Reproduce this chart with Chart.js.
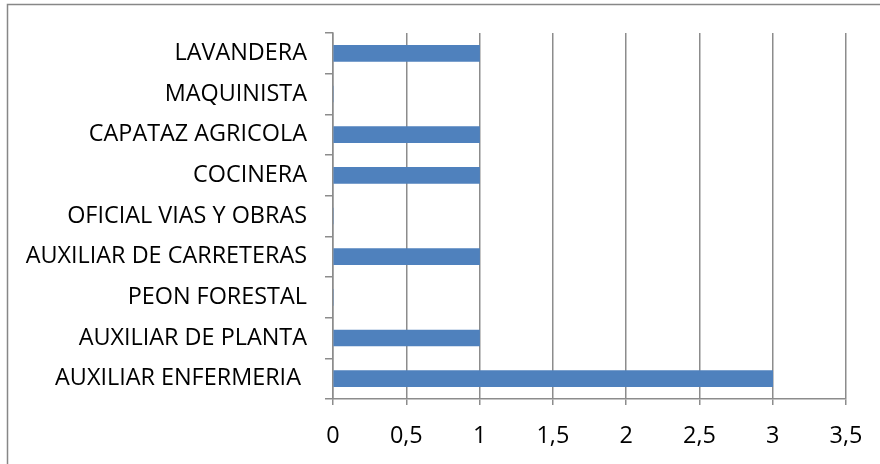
<!DOCTYPE html>
<html>
<head>
<meta charset="utf-8">
<script src="https://cdn.jsdelivr.net/npm/chart.js@4"></script>
<style>
  html, body { margin: 0; padding: 0; background: #ffffff; }
  #wrap { width: 880px; height: 464px; }
</style>
</head>
<body>
<div id="wrap"><canvas id="c" width="880" height="464"></canvas></div>
<script>
const categories = [
  'LAVANDERA',
  'MAQUINISTA',
  'CAPATAZ AGRICOLA',
  'COCINERA',
  'OFICIAL VIAS Y OBRAS',
  'AUXILIAR DE CARRETERAS',
  'PEON FORESTAL',
  'AUXILIAR DE PLANTA',
  'AUXILIAR ENFERMERIA '
];
const values = [1, 0, 1, 1, 0, 1, 0, 1, 3];
const xTickLabels = ['0', '0,5', '1', '1,5', '2', '2,5', '3', '3,5'];

const FONT = { family: '"Open Sans", sans-serif', size: 23.4 };
const GRID = '#8c8c8c';

const framePlugin = {
  id: 'frame',
  beforeDraw(chart) {
    const ctx = chart.ctx;
    ctx.save();
    ctx.fillStyle = '#ffffff';
    ctx.fillRect(0, 0, chart.width, chart.height);
    ctx.strokeStyle = '#878787';
    ctx.lineWidth = 1.5;
    ctx.beginPath();
    ctx.moveTo(7.5, chart.height + 2);
    ctx.lineTo(7.5, 4.5);
    ctx.lineTo(chart.width + 2, 4.5);
    ctx.stroke();
    ctx.restore();
  }
};

new Chart(document.getElementById('c'), {
  type: 'bar',
  data: {
    labels: categories,
    datasets: [{
      data: values,
      backgroundColor: '#4f81bd',
      borderWidth: 0,
      barThickness: 16
    }]
  },
  options: {
    indexAxis: 'y',
    responsive: false,
    animation: false,
    devicePixelRatio: 1,
    layout: { padding: { left: 0, top: 33, right: 34, bottom: 0 } },
    plugins: { legend: { display: false }, tooltip: { enabled: false } },
    scales: {
      x: {
        min: 0,
        max: 3.5,
        ticks: {
          stepSize: 0.5,
          color: '#000000',
          font: FONT,
          padding: 17,
          maxRotation: 0,
          autoSkip: false,
          callback: (v, i) => xTickLabels[i]
        },
        grid: { color: GRID, lineWidth: 1.5, tickLength: 6, drawOnChartArea: true },
        border: { color: GRID, width: 1.5 },
        afterFit(s) { s.height = 65; }
      },
      y: {
        ticks: { color: '#000000', font: FONT, padding: 18, autoSkip: false },
        grid: { display: true, drawOnChartArea: false, color: GRID, lineWidth: 1.5, tickLength: 8, offset: true },
        border: { color: GRID, width: 1.5 },
        afterFit(s) { s.width = 333; }
      }
    }
  },
  plugins: [framePlugin]
});
</script>
</body>
</html>
